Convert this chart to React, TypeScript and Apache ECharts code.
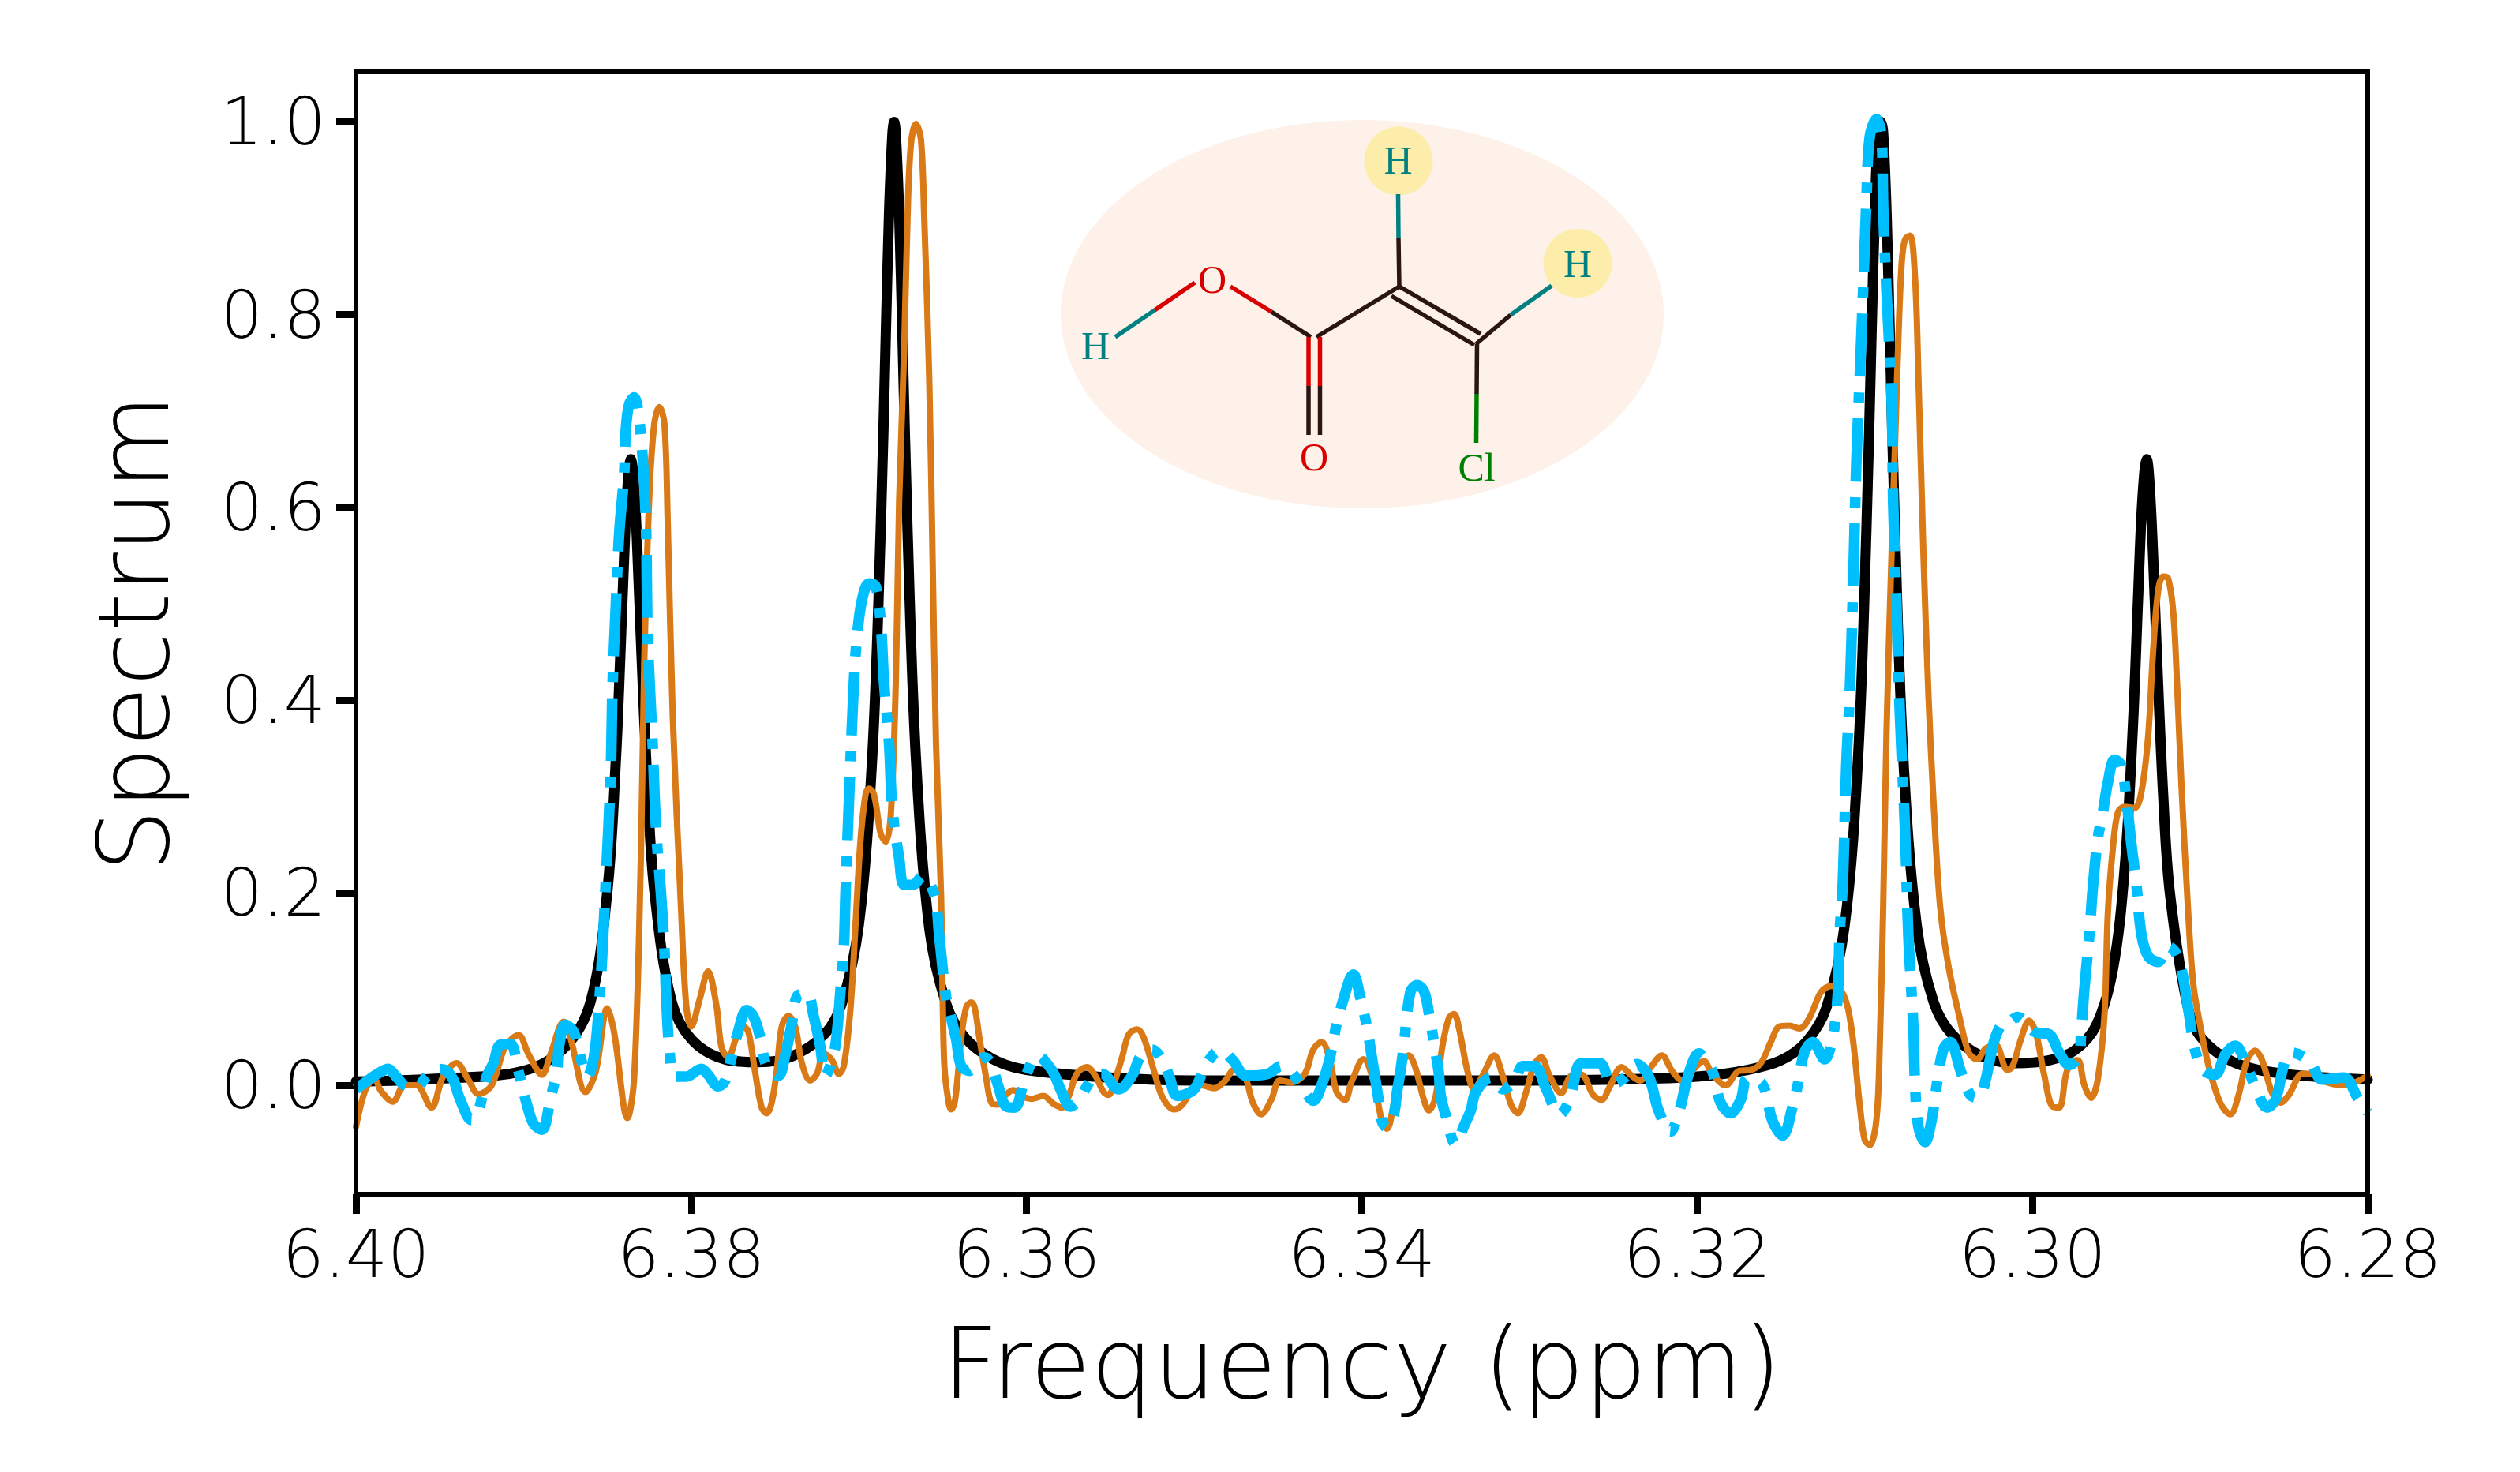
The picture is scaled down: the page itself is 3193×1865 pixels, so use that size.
import React, { useEffect, useRef } from "react";
import * as echarts from "echarts";

const xTicks = [6.28, 6.3, 6.32, 6.34, 6.36, 6.38, 6.4];
const yTicks = [0, 0.2, 0.4, 0.6, 0.8, 1.0];
const xTitle = "Frequency (ppm)";
const yTitle = "Spectrum";

const blackCurve = [
  [6.4, 0.004], [6.395, 0.007], [6.39, 0.015], [6.3875, 0.04], [6.386, 0.087], [6.385, 0.202], [6.3845, 0.336], [6.3842, 0.459], [6.384, 0.549], [6.3838, 0.621], [6.3836, 0.65],
  [6.3834, 0.621], [6.3832, 0.55], [6.383, 0.462], [6.3826, 0.306], [6.3822, 0.202], [6.3812, 0.089], [6.38, 0.048], [6.378, 0.027], [6.376, 0.024], [6.374, 0.03], [6.372, 0.054], [6.371, 0.086], [6.37, 0.167],
  [6.3692, 0.342], [6.3687, 0.577], [6.3684, 0.776], [6.3682, 0.906], [6.368, 0.988], [6.3679, 1.0], [6.3678, 0.988], [6.3676, 0.906], [6.3674, 0.776], [6.3671, 0.577], [6.3666, 0.34], [6.3658, 0.163], [6.3648, 0.085], [6.3637, 0.05], [6.362, 0.027], [6.36, 0.016], [6.355, 0.008], [6.35, 0.005],
  [6.34, 0.005], [6.33, 0.005], [6.325, 0.006], [6.32, 0.009], [6.317, 0.016], [6.315, 0.026], [6.3135, 0.045], [6.3123, 0.08], [6.3112, 0.166], [6.3104, 0.34], [6.3099, 0.577], [6.3096, 0.776], [6.3094, 0.906], [6.3092, 0.988], [6.30903, 1.0], [6.3089, 0.988], [6.3087, 0.906], [6.3085, 0.776], [6.3082, 0.577], [6.3077, 0.34], [6.3069, 0.166], [6.3059, 0.087], [6.3048, 0.053], [6.303, 0.03], [6.301, 0.023], [6.299, 0.026], [6.2975, 0.036], [6.2962, 0.062], [6.2952, 0.12], [6.2945, 0.224], [6.294, 0.374], [6.2937, 0.504], [6.2935, 0.589], [6.2933, 0.64], [6.29318, 0.65], [6.293, 0.621], [6.2928, 0.55], [6.2926, 0.459], [6.2922, 0.302], [6.2918, 0.2], [6.2908, 0.087], [6.29, 0.051], [6.288, 0.024], [6.285, 0.012], [6.28, 0.006],
];

const orangeCurve = [
  [6.4, -0.043], [6.3994, -0.003], [6.3989, 0.006], [6.3985, -0.006], [6.3978, -0.017], [6.3971, 0], [6.3964, 0], [6.3955, -0.023], [6.3948, 0.009], [6.394, 0.023], [6.3933, 0.006], [6.3927, -0.009], [6.3919, 0], [6.3911, 0.04], [6.3903, 0.052], [6.3897, 0.032], [6.3889, 0.011], [6.3884, 0.032], [6.3876, 0.066], [6.3872, 0.049], [6.3863, -0.007], [6.3857, 0.014], [6.385, 0.08], [6.3846, 0.055], [6.3838, -0.034], [6.3834, 0.009], [6.383, 0.239], [6.3828, 0.44], [6.3825, 0.612], [6.3822, 0.687], [6.3819, 0.704], [6.3816, 0.687], [6.3814, 0.583], [6.3811, 0.382], [6.3806, 0.181], [6.3803, 0.083], [6.38, 0.061], [6.3795, 0.089], [6.379, 0.118], [6.3785, 0.083], [6.3782, 0.04], [6.3778, 0.029], [6.3773, 0.05], [6.3769, 0.061], [6.3766, 0.056], [6.3762, 0.015], [6.3758, -0.023], [6.3755, -0.029], [6.3752, -0.018], [6.3749, 0.015], [6.3746, 0.061], [6.3742, 0.072], [6.3738, 0.061], [6.3734, 0.023], [6.3729, 0.005], [6.3725, 0.012], [6.3721, 0.033], [6.3716, 0.026], [6.3712, 0.012], [6.3709, 0.02], [6.3705, 0.08], [6.3702, 0.167], [6.3699, 0.255], [6.3696, 0.302], [6.3694, 0.308], [6.3691, 0.302], [6.3687, 0.261], [6.3684, 0.253], [6.3681, 0.28], [6.3678, 0.418], [6.3676, 0.606], [6.3673, 0.763], [6.3671, 0.9], [6.3669, 0.976], [6.3666, 0.998], [6.3663, 0.982], [6.3661, 0.9], [6.3658, 0.731], [6.3656, 0.543], [6.3654, 0.355], [6.3651, 0.198], [6.365, 0.09], [6.3649, 0.02], [6.3647, -0.012], [6.3645, -0.025], [6.3643, -0.019], [6.3641, 0.01], [6.3639, 0.048], [6.3636, 0.081], [6.3633, 0.086], [6.3631, 0.081], [6.3628, 0.048], [6.3624, 0.007], [6.3621, -0.018], [6.3617, -0.02], [6.3613, -0.011], [6.3608, -0.005], [6.3602, -0.012], [6.3597, -0.014], [6.359, -0.011], [6.3584, -0.019], [6.3579, -0.023], [6.3575, -0.012], [6.357, 0.012], [6.3564, 0.019], [6.3559, 0.01], [6.3554, -0.007], [6.3551, -0.01], [6.3548, 0.001], [6.3543, 0.029], [6.3539, 0.053], [6.3534, 0.058], [6.353, 0.049], [6.3524, 0.015], [6.3519, -0.012], [6.3512, -0.025], [6.3507, -0.02], [6.3501, -0.004], [6.3496, 0], [6.3488, -0.003], [6.3482, 0.004], [6.3476, 0.016], [6.347, 0.01], [6.3465, -0.018], [6.346, -0.03], [6.3454, -0.015], [6.3449, 0.005], [6.3442, 0.003], [6.3434, 0.012], [6.3429, 0.037], [6.3424, 0.045], [6.3419, 0.026], [6.3415, -0.007], [6.341, -0.015], [6.3406, 0.004], [6.3399, 0.027], [6.3393, 0.004], [6.3388, -0.037], [6.3385, -0.045], [6.3381, -0.02], [6.3376, 0.023], [6.3372, 0.031], [6.3368, 0.018], [6.3363, -0.015], [6.336, -0.026], [6.3356, -0.012], [6.3352, 0.04], [6.3348, 0.07], [6.3345, 0.074], [6.3342, 0.059], [6.3337, 0.015], [6.3333, -0.004], [6.3328, 0.01], [6.3321, 0.031], [6.3316, 0.01], [6.3311, -0.02], [6.3307, -0.029], [6.3302, -0.007], [6.3297, 0.022], [6.3293, 0.029], [6.3288, 0.01], [6.3281, -0.008], [6.3275, 0.01], [6.3269, 0.011], [6.3262, -0.01], [6.3257, -0.015], [6.3252, -0.001], [6.3245, 0.019], [6.3239, 0.01], [6.3234, 0.005], [6.3228, 0.018], [6.3221, 0.031], [6.3215, 0.015], [6.3208, 0.004], [6.3203, 0.015], [6.3196, 0.025], [6.3191, 0.012], [6.3183, 0], [6.3175, 0.015], [6.3168, 0.016], [6.3162, 0.023], [6.3156, 0.045], [6.3151, 0.061], [6.3145, 0.062], [6.3139, 0.059], [6.3133, 0.07], [6.3126, 0.097], [6.312, 0.103], [6.3113, 0.095], [6.3108, 0.06], [6.3103, -0.02], [6.31, -0.057], [6.3097, -0.062], [6.3093, -0.035], [6.3091, 0.045], [6.3089, 0.185], [6.3087, 0.368], [6.3084, 0.552], [6.3082, 0.662], [6.308, 0.772], [6.3078, 0.853], [6.3076, 0.878], [6.3073, 0.882], [6.307, 0.838], [6.3068, 0.735], [6.3065, 0.552], [6.3062, 0.405], [6.3059, 0.295], [6.3055, 0.185], [6.305, 0.123], [6.3043, 0.067], [6.3038, 0.034], [6.3033, 0.027], [6.3028, 0.038], [6.3022, 0.042], [6.3015, 0.016], [6.3012, 0.019], [6.3007, 0.047], [6.3002, 0.067], [6.2998, 0.055], [6.2993, 0.011], [6.2988, -0.022], [6.2984, -0.023], [6.298, 0.011], [6.2977, 0.024], [6.2973, 0.026], [6.2969, 0], [6.2965, -0.013], [6.2961, 0.006], [6.2957, 0.073], [6.2955, 0.178], [6.2952, 0.246], [6.2949, 0.283], [6.2945, 0.289], [6.2939, 0.288], [6.2935, 0.304], [6.2931, 0.361], [6.2928, 0.45], [6.2925, 0.513], [6.2922, 0.528], [6.2919, 0.526], [6.2916, 0.492], [6.2914, 0.429], [6.2911, 0.309], [6.2907, 0.178], [6.2904, 0.105], [6.29, 0.063], [6.2895, 0.021], [6.2888, -0.018], [6.2882, -0.03], [6.2877, -0.01], [6.2872, 0.026], [6.2867, 0.036], [6.2863, 0.026], [6.2857, -0.008], [6.2852, -0.018], [6.2847, -0.01], [6.2839, 0.012], [6.2835, 0.012], [6.2824, 0.003], [6.2814, 0], [6.28, 0.01],
];

const blueCurve = [
  [6.4, -0.004], [6.3993, 0.005], [6.3986, 0.013], [6.3981, 0.017], [6.3976, 0.009], [6.3971, 0], [6.3964, -0.002], [6.3958, 0.009], [6.3952, 0.017], [6.3947, 0.016], [6.3942, 0.006], [6.3938, -0.014], [6.3931, -0.036], [6.3927, -0.027], [6.3922, 0.009], [6.3918, 0.023], [6.3914, 0.042], [6.3908, 0.043], [6.3903, 0.014], [6.3898, -0.02], [6.3894, -0.04], [6.3889, -0.046], [6.3884, -0.014], [6.388, 0.017], [6.3879, 0.039], [6.3875, 0.063], [6.387, 0.055], [6.3866, 0.029], [6.3862, 0.009], [6.3858, 0.03], [6.3855, 0.083], [6.3853, 0.138], [6.3851, 0.21], [6.3848, 0.325], [6.3847, 0.411], [6.3845, 0.497], [6.3843, 0.572], [6.384, 0.635], [6.3839, 0.681], [6.3837, 0.707], [6.3834, 0.714], [6.3832, 0.704], [6.3829, 0.652], [6.3827, 0.583], [6.3826, 0.468], [6.3823, 0.353], [6.3821, 0.267], [6.3818, 0.198], [6.3816, 0.141], [6.3815, 0.095], [6.3813, 0.037], [6.381, 0.009], [6.3803, 0.009], [6.3794, 0.017], [6.379, 0.011], [6.3784, -0.001], [6.378, 0.004], [6.3776, 0.029], [6.3772, 0.056], [6.3767, 0.078], [6.3763, 0.072], [6.3759, 0.051], [6.3755, 0.02], [6.3748, 0.01], [6.3744, 0.031], [6.374, 0.064], [6.3737, 0.092], [6.3731, 0.096], [6.3727, 0.072], [6.3723, 0.04], [6.372, 0.01], [6.3715, 0.033], [6.3713, 0.056], [6.3711, 0.098], [6.3709, 0.142], [6.3708, 0.198], [6.3706, 0.292], [6.3703, 0.418], [6.3701, 0.468], [6.3698, 0.505], [6.3694, 0.521], [6.369, 0.518], [6.3687, 0.48], [6.3685, 0.418], [6.3682, 0.355], [6.368, 0.286], [6.3676, 0.236], [6.3673, 0.208], [6.3668, 0.208], [6.3662, 0.217], [6.3655, 0.198], [6.3652, 0.154], [6.3648, 0.092], [6.3645, 0.07], [6.3642, 0.048], [6.3639, 0.02], [6.3634, 0.015], [6.3629, 0.026], [6.3625, 0.029], [6.3621, 0.022], [6.3617, 0], [6.3612, -0.022], [6.3607, -0.023], [6.3602, 0.001], [6.3598, 0.02], [6.3594, 0.031], [6.3585, 0.016], [6.3579, -0.007], [6.3574, -0.022], [6.3569, -0.016], [6.3564, -0.001], [6.3559, 0.011], [6.3555, 0.012], [6.3545, -0.004], [6.3537, 0.01], [6.3532, 0.03], [6.3525, 0.037], [6.3519, 0.026], [6.3515, 0.01], [6.351, -0.011], [6.35, -0.004], [6.3494, 0.018], [6.3488, 0.033], [6.3484, 0.036], [6.3477, 0.026], [6.3469, 0.01], [6.3456, 0.012], [6.3448, 0.02], [6.3442, 0.014], [6.3435, -0.004], [6.3429, -0.016], [6.3423, 0.005], [6.3419, 0.029], [6.3415, 0.064], [6.3411, 0.089], [6.3407, 0.111], [6.3405, 0.115], [6.3401, 0.092], [6.3397, 0.061], [6.3394, 0.029], [6.3392, 0.007], [6.339, -0.015], [6.3388, -0.037], [6.3385, -0.044], [6.3381, -0.031], [6.3379, -0.007], [6.3377, 0.014], [6.3375, 0.04], [6.3371, 0.097], [6.3367, 0.104], [6.3363, 0.098], [6.336, 0.075], [6.3356, 0.034], [6.3354, 0.012], [6.3353, -0.01], [6.335, -0.031], [6.3344, -0.061], [6.3339, -0.042], [6.3335, -0.026], [6.3332, -0.007], [6.3323, 0.008], [6.3316, -0.004], [6.3309, 0.004], [6.3304, 0.02], [6.3297, 0.02], [6.329, -0.004], [6.3282, -0.03], [6.3276, -0.015], [6.3269, 0.023], [6.3258, 0.023], [6.3251, 0.001], [6.3243, 0.008], [6.3236, 0.022], [6.3229, 0.01], [6.3223, -0.026], [6.3216, -0.048], [6.3211, -0.029], [6.3205, 0.012], [6.3199, 0.033], [6.3191, 0.015], [6.3186, -0.018], [6.318, -0.029], [6.3174, -0.015], [6.317, 0.007], [6.3161, 0.001], [6.3155, -0.037], [6.3149, -0.052], [6.3143, -0.022], [6.314, 0], [6.3136, 0.034], [6.3131, 0.045], [6.3124, 0.027], [6.3119, 0.051], [6.3116, 0.097], [6.3115, 0.156], [6.3113, 0.214], [6.3111, 0.332], [6.3109, 0.405], [6.3107, 0.515], [6.3105, 0.647], [6.3103, 0.735], [6.3101, 0.823], [6.3099, 0.919], [6.3097, 0.985], [6.3093, 1.003], [6.309, 0.985], [6.3089, 0.911], [6.3087, 0.823], [6.3084, 0.713], [6.3083, 0.603], [6.3081, 0.493], [6.3079, 0.383], [6.3076, 0.266], [6.3074, 0.156], [6.3071, 0.06], [6.307, 0.001], [6.3068, -0.043], [6.3064, -0.059], [6.306, -0.035], [6.3057, 0.001], [6.3053, 0.038], [6.3049, 0.045], [6.3043, 0.016], [6.3037, -0.01], [6.3032, -0.013], [6.3028, 0.005], [6.3023, 0.045], [6.3018, 0.064], [6.3013, 0.067], [6.3009, 0.071], [6.2998, 0.055], [6.299, 0.053], [6.2984, 0.034], [6.2978, 0.021], [6.2972, 0.032], [6.2971, 0.053], [6.2969, 0.1], [6.2966, 0.157], [6.2964, 0.204], [6.2961, 0.256], [6.2958, 0.283], [6.2955, 0.314], [6.2951, 0.338], [6.2947, 0.332], [6.2944, 0.298], [6.2941, 0.251], [6.2938, 0.209], [6.2935, 0.157], [6.2931, 0.134], [6.2925, 0.128], [6.2919, 0.144], [6.2915, 0.139], [6.2911, 0.12], [6.2907, 0.079], [6.2903, 0.037], [6.2898, 0.016], [6.2891, 0.011], [6.2885, 0.032], [6.2879, 0.041], [6.2873, 0.024], [6.2867, -0.002], [6.286, -0.023], [6.2855, -0.015], [6.285, 0.021], [6.2846, 0.034], [6.2835, 0.026], [6.2827, 0.006], [6.2814, 0.008], [6.2806, -0.013], [6.28, -0.028],
];

const DARK = "#2a1512";
const TEAL = "#008080";
const RED = "#d80000";
const GREEN = "#008000";
const W = 5.5;

const bond = (x1: number, y1: number, x2: number, y2: number, stroke: string) => ({
  type: "line",
  z: 20,
  shape: { x1, y1, x2, y2 },
  style: { stroke, lineWidth: W, lineCap: "butt" },
});
const atom = (text: string, x: number, y: number, fill: string) => ({
  type: "text",
  z: 22,
  x,
  y,
  style: { text, fill, font: '50px "Liberation Serif"', align: "center", verticalAlign: "middle" },
});

const molecule = [
  { type: "ellipse", z: 18, shape: { cx: 1726, cy: 398, rx: 382, ry: 246 }, style: { fill: "#fdf1ea" } },
  { type: "circle", z: 19, shape: { cx: 1772, cy: 204, r: 43.5 }, style: { fill: "#fdedaa" } },
  { type: "circle", z: 19, shape: { cx: 1999, cy: 333.5, r: 43.5 }, style: { fill: "#fdedaa" } },
  bond(1771.5, 246, 1772, 302, TEAL),
  bond(1772, 302, 1773, 364, DARK),
  bond(1773, 363, 1876, 423, DARK),
  bond(1763, 375, 1868, 437, DARK),
  bond(1870, 436, 1914, 399, DARK),
  bond(1914, 399, 1966, 362, TEAL),
  bond(1871.5, 436, 1871, 499, DARK),
  bond(1871, 499, 1870.5, 561, GREEN),
  bond(1668, 427, 1773, 363, DARK),
  bond(1661, 427, 1611, 395, DARK),
  bond(1611, 395, 1559, 363, RED),
  bond(1514, 358, 1463, 393, RED),
  bond(1463, 393, 1413, 427, TEAL),
  bond(1658, 427, 1658, 489, RED),
  bond(1672.5, 427, 1672.5, 489, RED),
  bond(1658, 489, 1658, 551, DARK),
  bond(1672.5, 489, 1672.5, 551, DARK),
  atom("H", 1771.5, 203, TEAL),
  atom("H", 1999, 334, TEAL),
  atom("O", 1536, 354, RED),
  atom("H", 1388, 438, TEAL),
  atom("O", 1665, 579, RED),
  atom("Cl", 1871, 592, GREEN),
];

const LABEL_FONT = "DejaVu Sans";

export default function App() {
  const ref = useRef<HTMLDivElement>(null);
  useEffect(() => {
    const chart = echarts.init(ref.current!, undefined, { renderer: "svg" });
    chart.setOption({
      animation: false,
      backgroundColor: "#ffffff",
      grid: { left: 451, top: 91, width: 2549, height: 1422, containLabel: false },
      xAxis: {
        type: "value",
        inverse: true,
        min: 6.28,
        max: 6.4,
        name: xTitle,
        nameLocation: "middle",
        nameGap: 152,
        nameTextStyle: { fontFamily: LABEL_FONT, fontWeight: 200, fontSize: 125, color: "#000" },
        axisLine: { show: false, onZero: false },
        splitLine: { show: false },
        axisTick: { show: true, length: 25, lineStyle: { width: 9, color: "#000" }, customValues: xTicks },
        axisLabel: {
          margin: 34,
          fontFamily: LABEL_FONT,
          fontWeight: 200,
          fontSize: 84,
          color: "#000",
          customValues: xTicks,
          formatter: (v: number) => v.toFixed(2),
        },
      },
      yAxis: {
        type: "value",
        min: -0.113,
        max: 1.052,
        name: yTitle,
        nameLocation: "middle",
        nameGap: 219,
        nameTextStyle: { fontFamily: LABEL_FONT, fontWeight: 200, fontSize: 125, color: "#000" },
        axisLine: { show: false, onZero: false },
        splitLine: { show: false },
        axisTick: { show: true, length: 25, lineStyle: { width: 9, color: "#000" }, customValues: yTicks },
        axisLabel: {
          margin: 38,
          fontFamily: LABEL_FONT,
          fontWeight: 200,
          fontSize: 84,
          color: "#000",
          customValues: yTicks,
          formatter: (v: number) => v.toFixed(1),
        },
      },
      graphic: [
        ...molecule,
        {
          type: "rect",
          z: 100,
          shape: { x: 451, y: 91, width: 2549, height: 1422 },
          style: { fill: "none", stroke: "#000", lineWidth: 6 },
        },
      ],
      series: [
        {
          type: "line",
          name: "Black",
          data: blackCurve,
          showSymbol: false,
          smooth: 0.35,
          lineStyle: { color: "#000", width: 13, cap: "round", join: "round" },
          z: 3,
        },
        {
          type: "line",
          name: "Orange",
          data: orangeCurve,
          showSymbol: false,
          smooth: 0.35,
          lineStyle: { color: "#d97a16", width: 8, cap: "round", join: "round" },
          z: 4,
        },
        {
          type: "line",
          name: "Blue",
          data: blueCurve,
          showSymbol: false,
          smooth: 0.35,
          lineStyle: { color: "#00bfff", width: 13.5, type: [80, 20, 13, 20], cap: "butt", join: "round" },
          z: 5,
        },
      ],
    });
    return () => chart.dispose();
  }, []);
  return <div ref={ref} style={{ position: "absolute", left: 0, top: 0, width: 3193, height: 1865 }} />;
}
